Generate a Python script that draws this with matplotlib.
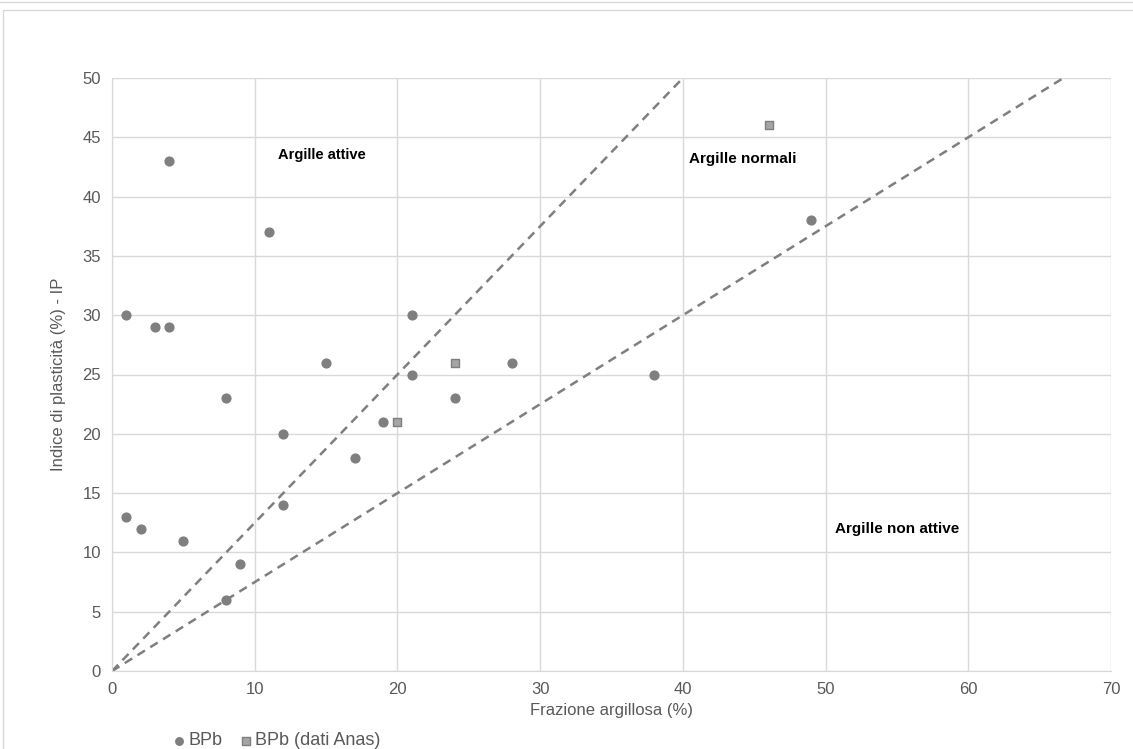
import matplotlib.pyplot as plt
from matplotlib.patches import Rectangle
import numpy as np

plt.rcParams['font.family'] = ['Liberation Sans', 'DejaVu Sans']

# BPb points (frazione argillosa, IP)
bpb_x = [4, 11, 1, 3, 4, 8, 12, 1, 2, 5, 9, 8, 12, 15, 17, 19, 21, 21, 24, 28, 38, 49]
bpb_y = [43, 37, 30, 29, 29, 23, 20, 13, 12, 11, 9, 6, 14, 26, 18, 21, 30, 25, 23, 26, 25, 38]

# BPb (dati Anas)
anas_x = [46, 24, 20]
anas_y = [46, 26, 21]

# activity limits (IP = A * frazione)
activity_slopes = [1.25, 0.75]

fig = plt.figure(figsize=(11.33, 7.49), dpi=100)
# chart frame borders
fig.patches.append(Rectangle((-0.01, 0.9975), 1.02, 0.05, transform=fig.transFigure,
                             fill=False, edgecolor="#d9d9d9", lw=1))
fig.patches.append(Rectangle((0.003, -0.01), 1.02, 0.996, transform=fig.transFigure,
                             fill=False, edgecolor="#d9d9d9", lw=1))

ax = fig.add_axes([0.0989, 0.1041, 0.8817, 0.7918])

xs = np.array([0, 70])
for a in activity_slopes:
    ax.plot(xs, a * xs, color="#7f7f7f", lw=1.8, ls=(0, (3.5, 2.5)), zorder=2)

ax.scatter(bpb_x, bpb_y, s=40, color="#7f7f7f", marker="o", zorder=3, label="BPb")
ax.scatter(anas_x, anas_y, s=40, color="#a5a5a5", edgecolor="#7f7f7f", lw=1,
           marker="s", zorder=3, label="BPb (dati Anas)")

ax.set_xlim(0, 70)
ax.set_ylim(0, 50)
ax.set_xticks(range(0, 71, 10))
ax.set_yticks(range(0, 51, 5))
ax.grid(True, color="#d9d9d9", lw=1)
ax.set_axisbelow(True)
for s in ax.spines.values():
    s.set_visible(False)
ax.spines["left"].set_visible(True)
ax.spines["bottom"].set_visible(True)
ax.spines["left"].set_color("#d9d9d9")
ax.spines["bottom"].set_color("#d9d9d9")
ax.tick_params(length=0, labelsize=12, labelcolor="#595959", pad=8)

ax.set_xlabel("Frazione argillosa (%)", fontsize=12, color="#595959", labelpad=4)
ax.set_ylabel("Indice di plasticità (%) - IP", fontsize=12, color="#595959", labelpad=12)

ax.text(14.7, 43.5, "Argille attive", fontsize=10.5, fontweight="bold", ha="center", va="center")
ax.text(44.2, 43.2, "Argille normali", fontsize=11, fontweight="bold", ha="center", va="center")
ax.text(55.0, 12.0, "Argille non attive", fontsize=11, fontweight="bold", ha="center", va="center")

fig.legend(loc="center", bbox_to_anchor=(0.243, 0.011), ncol=2, frameon=False,
           fontsize=13, labelcolor="#595959", handletextpad=0.0, columnspacing=0.8,
           handlelength=1.0, markerscale=0.85)

plt.savefig("out.png", dpi=100)
